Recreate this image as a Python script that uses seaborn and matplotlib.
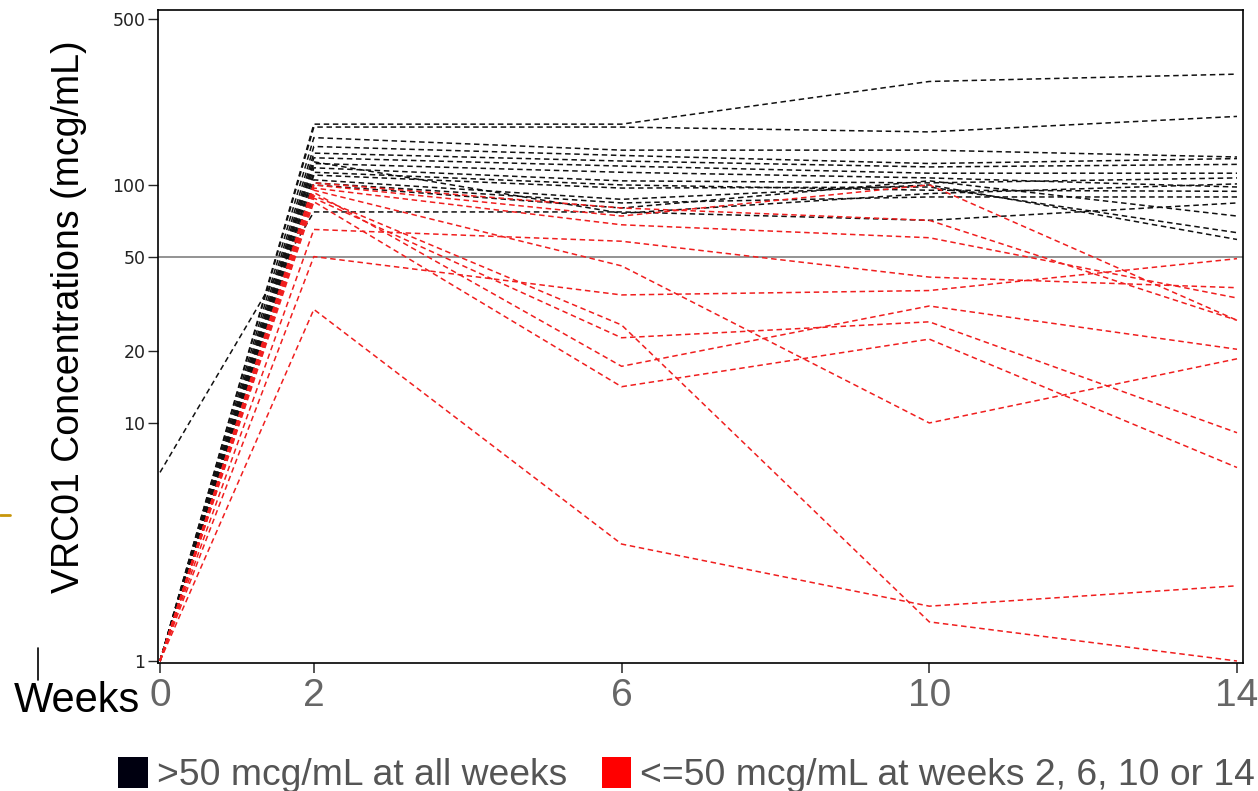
import numpy as np
import pandas as pd
import matplotlib
matplotlib.use("Agg")
import matplotlib.pyplot as plt
import seaborn as sns
from matplotlib.patches import Patch
from matplotlib.lines import Line2D
from matplotlib.ticker import NullLocator

# ---------------- data ----------------
weeks = [0, 2, 6, 10, 14]
week_labels = ["0", "2", "6", "10", "14"]
y_ticks = [1, 10, 20, 50, 100, 500]
threshold = 50

group_above = ">50 mcg/mL at all weeks"
group_below = "<=50 mcg/mL at weeks 2, 6, 10 or 14"

# concentrations at weeks 0, 2, 6, 10, 14 (one row per participant)
above_50_rows = [
    [1.0, 180, 180, 272, 292],
    [1.0, 175, 175, 167, 194],
    [1.0, 158, 140, 140, 131],
    [1.0, 145, 133, 123, 129],
    [1.0, 136, 126, 119, 122],
    [1.0, 130, 120, 112, 112],
    [1.0, 123, 113, 107, 98],
    [1.0, 118, 104, 102, 107],
    [1.0, 113, 100, 95, 94],
    [1.0, 110, 97, 98, 63],
    [1.0, 105, 87, 100, 59],
    [1.0, 102, 84, 89, 89],
    [1.0, 100, 80, 104, 74],
    [1.0, 125, 76, 92, 101],
    [6.2, 77, 77, 71, 84],
]
below_50_rows = [
    [1.0, 30, 3.1, 1.7, 2.07],
    [1.0, 90, 25.8, 1.46, 1.0],
    [1.0, 65, 58, 41, 37],
    [1.0, 50, 34.5, 36, 49],
    [1.0, 97, 68, 60, 33.5],
    [1.0, 100, 74, 100, 27],
    [1.0, 88, 22.8, 26.6, 9.1],
    [1.0, 93, 17.3, 31, 20.4],
    [1.0, 85, 14.2, 22.5, 6.5],
    [1.0, 95, 45.7, 10, 18.6],
    [1.0, 102, 80, 71, 27],
]

palette = {group_above: "#111111", group_below: "#f01e1e"}

# ---------------- long table ----------------
records = []
sid = 0
for grp, rows in [(group_above, above_50_rows), (group_below, below_50_rows)]:
    for row in rows:
        for w, v in zip(weeks, row):
            records.append({"subject": sid, "week": w, "conc": v, "group": grp})
        sid += 1
df = pd.DataFrame(records)

# ---------------- figure ----------------
sns.set_style("ticks")
plt.rcParams["font.family"] = ["Liberation Sans", "DejaVu Sans"]

W, H = 1258, 791
fig = plt.figure(figsize=(W / 100, H / 100), dpi=100)
ax = fig.add_axes([158 / W, 1 - 663 / H, (1243 - 158) / W, (663 - 10) / H])

sns.lineplot(data=df, x="week", y="conc", hue="group", units="subject",
             estimator=None, palette=palette, lw=1.1, legend=False,
             sort=False, ax=ax)
for ln in ax.lines:
    ln.set_dashes([3.6, 2.4])

ax.set_yscale("log")
ax.set_ylim(0.981, 543)
ax.set_xlim(-0.026, 14.078)
ax.axhline(threshold, color="#8a8a8a", lw=1.3, zorder=1)

ax.set_yticks(y_ticks)
ax.set_yticklabels([str(t) for t in y_ticks], fontfamily="DejaVu Sans")
ax.yaxis.set_minor_locator(NullLocator())
ax.tick_params(axis="y", length=7, width=1.0, labelsize=12.5,
               labelcolor="#222222", pad=2)

ax.set_xticks(weeks)
ax.set_xticklabels(week_labels)
ax.tick_params(axis="x", length=7, width=1.1, labelsize=28,
               labelcolor="#666666", pad=4)

for sp in ax.spines.values():
    sp.set_visible(True)
    sp.set_color("black")
    sp.set_linewidth(1.2)

ax.set_xlabel("")
ax.set_ylabel("VRC01 Concentrations (mcg/mL)", fontsize=27, color="black")
ax.yaxis.set_label_coords(-0.065, 0.53)

fig.text(140 / W, 1 - 712 / H, "Weeks", fontsize=30, ha="right",
         va="baseline", color="black")

handles = [Patch(facecolor="#000010", edgecolor="none"),
           Patch(facecolor="#ff0000", edgecolor="none")]
fig.legend(handles=handles, labels=[group_above, group_below],
           loc="lower left", bbox_to_anchor=(118 / W, -0.003), ncol=2,
           frameon=False, fontsize=26.8, handlelength=0.8, handleheight=0.93,
           handletextpad=0.24, columnspacing=0.93, labelcolor="#555555",
           borderaxespad=0, borderpad=0)

# slide decorations
fig.add_artist(Line2D([0, 10 / W], [1 - 515 / H] * 2, color="#c8960a", lw=2))
fig.add_artist(Line2D([38 / W] * 2, [1 - 648 / H, 1 - 680 / H],
                      color="black", lw=1.2))

fig.savefig("out.png", dpi=100)
